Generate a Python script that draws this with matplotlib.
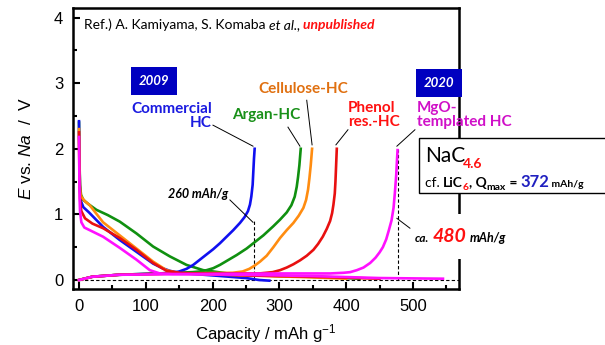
import matplotlib
matplotlib.use("Agg")
import matplotlib.pyplot as plt
from matplotlib.patches import Rectangle
from matplotlib.transforms import IdentityTransform

# charge / discharge profiles, capacity in mAh/g and potential in V vs. Na
names = ["Commercial HC", "Argan-HC", "Cellulose-HC", "Phenol res.-HC", "MgO-templated HC"]
colors = ["#1010F0", "#109010", "#FF8C10", "#E81010", "#FF10FF"]

dis_cap = [
    [0, 0.5, 1.5, 3, 6.5, 15, 36, 61, 86, 111, 125, 136, 150, 161, 200, 250, 270, 285],
    [0, 0.5, 1.5, 3, 6.5, 15, 26, 43, 61, 86, 111, 136, 161, 186, 201, 230, 300, 380, 420],
    [0, 0.5, 1.5, 2.5, 4, 9, 16, 36, 61, 86, 111, 131, 151, 250, 350, 400],
    [0, 0.5, 1.5, 2.5, 3.5, 9, 20, 36, 61, 86, 111, 131, 151, 250, 350, 450],
    [0, 0.5, 1, 1.5, 3.5, 8, 16, 36, 61, 86, 106, 121, 140, 250, 350, 450, 545],
]
dis_v = [
    [2.42, 1.9, 1.35, 1.2, 1.11, 1.03, 0.81, 0.61, 0.43, 0.25, 0.18, 0.14, 0.11, 0.1, 0.07, 0.03, 0.0, -0.01],
    [2.4, 1.9, 1.45, 1.3, 1.22, 1.15, 1.07, 0.99, 0.89, 0.71, 0.51, 0.36, 0.23, 0.15, 0.13, 0.09, 0.06, 0.04, 0.02],
    [2.3, 1.8, 1.4, 1.3, 1.26, 1.2, 1.14, 0.88, 0.68, 0.48, 0.28, 0.15, 0.1, 0.07, 0.04, 0.02],
    [2.25, 1.7, 1.25, 1.12, 1.05, 0.94, 0.86, 0.79, 0.64, 0.46, 0.26, 0.14, 0.11, 0.07, 0.05, 0.02],
    [2.18, 1.6, 1.2, 1.05, 0.88, 0.8, 0.76, 0.66, 0.49, 0.31, 0.15, 0.1, 0.09, 0.08, 0.06, 0.03, 0.02],
]

chg_cap = [
    [0, 20, 60, 120, 140, 150, 161, 171, 181, 191, 201, 211, 221, 231, 241, 248, 253, 256, 258, 260, 261, 262, 263],
    [0, 20, 60, 120, 170, 181, 191, 201, 211, 221, 236, 251, 261, 276, 291, 301, 311, 318, 323, 326, 328, 330, 332],
    [0, 20, 60, 150, 230, 245, 255, 263, 271, 281, 291, 301, 311, 321, 329, 336, 340, 343, 345, 347, 349],
    [0, 20, 60, 150, 270, 290, 301, 311, 321, 331, 341, 351, 358, 365, 371, 376, 379, 381, 383, 384, 385, 386],
    [0, 20, 60, 150, 300, 376, 396, 406, 416, 426, 436, 444, 450, 455, 460, 464, 468, 471, 473, 475, 476, 477],
]
chg_v = [
    [0.0, 0.05, 0.08, 0.1, 0.11, 0.13, 0.17, 0.23, 0.31, 0.39, 0.47, 0.56, 0.66, 0.76, 0.87, 0.96, 1.05, 1.15, 1.27, 1.45, 1.65, 1.85, 2.0],
    [0.0, 0.05, 0.08, 0.1, 0.12, 0.13, 0.15, 0.18, 0.23, 0.29, 0.38, 0.48, 0.56, 0.68, 0.82, 0.92, 1.03, 1.14, 1.27, 1.42, 1.57, 1.75, 2.0],
    [0.0, 0.05, 0.08, 0.1, 0.11, 0.13, 0.17, 0.22, 0.28, 0.37, 0.5, 0.64, 0.76, 0.87, 0.98, 1.1, 1.22, 1.38, 1.55, 1.75, 2.0],
    [0.0, 0.05, 0.08, 0.1, 0.1, 0.12, 0.15, 0.19, 0.24, 0.3, 0.37, 0.46, 0.55, 0.66, 0.78, 0.9, 1.02, 1.15, 1.32, 1.5, 1.75, 2.0],
    [0.0, 0.05, 0.08, 0.09, 0.1, 0.1, 0.11, 0.12, 0.15, 0.19, 0.26, 0.34, 0.42, 0.5, 0.62, 0.76, 0.91, 1.1, 1.33, 1.6, 1.8, 1.98],
]

commercial_cap = 262
mgo_cap = 477

LAT = "Lato"
plt.rcParams["font.family"] = ["Liberation Sans", "DejaVu Sans"]
plt.rcParams["mathtext.fontset"] = "custom"
plt.rcParams["mathtext.rm"] = "Liberation Sans"
plt.rcParams["mathtext.it"] = "Liberation Sans:italic"

fig = plt.figure(figsize=(6.05, 3.45), dpi=100)
ax = fig.add_axes([73 / 605, 1 - 289 / 345, 386 / 605, 281 / 345])

draw_order = [1, 0, 2, 3, 4]
for i in draw_order:
    ax.plot(dis_cap[i], dis_v[i], color=colors[i], lw=1.9, solid_joinstyle="round", zorder=3)
    ax.plot(chg_cap[i], chg_v[i], color=colors[i], lw=1.9, solid_joinstyle="round", zorder=3)

# guide lines
ax.plot([0, 570], [0, 0], "k--", lw=0.8, dashes=(3, 2), zorder=2)
ax.plot([commercial_cap, commercial_cap], [0, 0.9], "k--", lw=0.8, dashes=(3, 2), zorder=2)
ax.plot([mgo_cap, mgo_cap], [0, 2.0], "k--", lw=0.8, dashes=(3, 2), zorder=2)

ax.set_xlim(-9, 569)
ax.set_ylim(-0.137, 4.146)
ax.set_xticks([0, 100, 200, 300, 400, 500])
ax.set_xticks([50, 150, 250, 350, 450, 550], minor=True)
ax.set_yticks([0, 1, 2, 3, 4])
ax.set_yticks([0.5, 1.5, 2.5, 3.5], minor=True)
ax.tick_params(which="both", direction="in", width=1.5, labelsize=12, top=False, right=False)
ax.tick_params(which="major", length=5)
ax.tick_params(which="minor", length=3)
ax.tick_params(axis="x", pad=7)
ax.tick_params(axis="y", pad=7)
for s in ax.spines.values():
    s.set_linewidth(1.8)

ax.set_xlabel("Capacity / mAh g$^{\\mathregular{-1}}$", fontsize=12, labelpad=6)
ax.set_ylabel("$\\mathit{E}$ vs. $\\mathit{Na}$  /  V", fontsize=12.5, labelpad=14)

# reference line
t = ax.annotate("Ref.) A. Kamiyama, S. Komaba ", xy=(7.5, 3.83), fontsize=10, family=LAT, va="baseline")
t = ax.annotate("et al.,", xy=(1, 3.83), xycoords=(t, "data"), fontsize=10, family=LAT,
                style="italic", va="baseline")
t = ax.annotate(" unpublished", xy=(1, 3.83), xycoords=(t, "data"), fontsize=10, family=LAT,
                style="italic", weight="bold", color="#FF1010", va="baseline")

# year tags
for x, y, s in [(112.3, 3.03, "2009"), (538.9, 3.0, "2020")]:
    ax.text(x, y, s, fontsize=9.5, family=LAT, style="italic", weight="bold", color="white",
            ha="center", va="center", clip_on=False,
            bbox=dict(boxstyle="square,pad=0.6", fc="#0000C0", ec="none"))

# material labels and leader lines
label_specs = [
    ("Commercial\nHC", 199.1, 2.50, "right", "#1A1AE0", (200.6, 2.36), (260.5, 2.04)),
    ("Argan-HC", 280.7, 2.52, "center", "#189018", (312.9, 2.33), (330.8, 2.04)),
    ("Cellulose-HC", 335.3, 2.91, "center", "#E07010", (341, 2.74), (349, 2.06)),
    ("Phenol\nres.-HC", 402.7, 2.52, "left", "#FF1010", (402.7, 2.29), (384.7, 2.06)),
    ("MgO-\ntemplated HC", 506.0, 2.51, "left", "#D010C8", (503, 2.29), (476, 2.04)),
]
for s, x, y, ha, c, p0, p1 in label_specs:
    ax.text(x, y, s, fontsize=11, family=LAT, weight="bold", color=c, ha=ha, va="center",
            multialignment=ha, linespacing=1.0, clip_on=False)
    ax.plot([p0[0], p1[0]], [p0[1], p1[1]], color="k", lw=0.7, zorder=4)

ax.text(178.1, 1.31, "260 mAh/g", fontsize=9, family=LAT, style="italic", weight="bold",
        ha="center", va="center")
ax.plot([226, 260.5], [1.22, 0.88], color="k", lw=0.7, zorder=4)

# ca. 480 mAh/g
ax.plot([476, 495.5], [0.94, 0.79], color="k", lw=0.7, zorder=4)
ax.text(503, 0.58, "ca.", fontsize=8.5, family=LAT, style="italic", weight="bold",
        va="baseline", clip_on=False, zorder=6)
ax.text(530, 0.58, "480", fontsize=14, family=LAT, style="italic", weight="bold",
        color="#FF1010", va="baseline", clip_on=False, zorder=5,
        bbox=dict(boxstyle="square,pad=0.7", fc="white", ec="none"))
ax.text(585, 0.58, "mAh/g", fontsize=9, family=LAT, style="italic", weight="bold",
        va="baseline", clip_on=False, zorder=6)

# NaC4.6 box on the right
ax.add_patch(Rectangle((419, 152), 200, 55, transform=IdentityTransform(), fc="white",
                       ec="k", lw=1.0, zorder=7, clip_on=False))
kw = dict(xycoords="figure pixels", family=LAT, va="baseline", annotation_clip=False, zorder=8)
ax.annotate("NaC", xy=(425, 183), fontsize=15, **kw)
ax.annotate("4.6", xy=(463, 177), fontsize=10, weight="bold", color="#FF1010", **kw)

y0 = 158
kw = dict(family=LAT, va="baseline", annotation_clip=False, zorder=8)
t = ax.annotate("cf. ", xy=(425, y0), xycoords="figure pixels", fontsize=10, **kw)
t = ax.annotate("LiC", xy=(1, y0), xycoords=(t, "figure pixels"), fontsize=10, weight="bold", **kw)
t = ax.annotate("6", xy=(1, y0 - 3), xycoords=(t, "figure pixels"), xytext=(-0.3, 0),
                textcoords="offset points", fontsize=7.5, weight="bold", color="#FF1010", **kw)
t = ax.annotate(", Q", xy=(1, y0), xycoords=(t, "figure pixels"), fontsize=10, weight="bold", **kw)
t = ax.annotate("max", xy=(1, y0 - 3), xycoords=(t, "figure pixels"), fontsize=7.5, weight="bold", **kw)
t = ax.annotate(" = ", xy=(1, y0), xycoords=(t, "figure pixels"), fontsize=10, weight="bold", **kw)
t = ax.annotate("372", xy=(1, y0), xycoords=(t, "figure pixels"), fontsize=12, weight="bold",
                color="#2020C0", **kw)
t = ax.annotate(" mAh/g", xy=(1, y0), xycoords=(t, "figure pixels"), fontsize=7.5, weight="bold", **kw)

fig.savefig("out.png", dpi=100)
